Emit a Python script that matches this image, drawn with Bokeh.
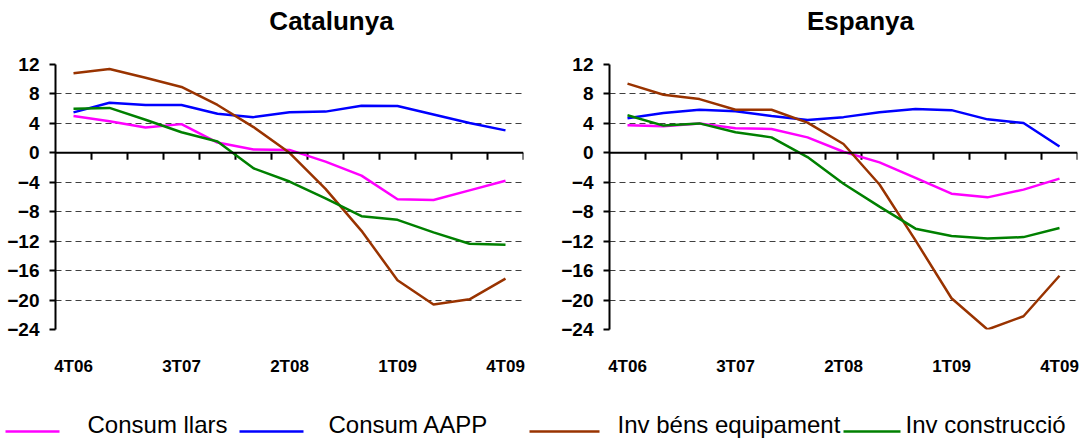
from bokeh.plotting import figure
from bokeh.models import Range1d, FixedTicker, Span
from bokeh.layouts import column, row
from bokeh.embed import file_html
from bokeh.resources import INLINE
from bokeh.core.properties import value

# ---------------- data ----------------
quarters = ["4T06", "1T07", "2T07", "3T07", "4T07", "1T08", "2T08",
            "3T08", "4T08", "1T09", "2T09", "3T09", "4T09"]
shown_quarters = ["4T06", "3T07", "2T08", "1T09", "4T09"]
y_ticks = [12, 8, 4, 0, -4, -8, -12, -16, -20, -24]
panel_titles = ["Catalunya", "Espanya"]

series_names = ["Consum llars", "Consum AAPP", "Inv béns equipament", "Inv construcció"]
series_colors = ["#FF00FF", "#0000FF", "#993300", "#008000"]

cat_consum_llars = [5.0, 4.3, 3.45, 3.9, 1.4, 0.45, 0.4, -1.2, -3.1, -6.3, -6.4, -5.1, -3.8]
cat_consum_aapp = [5.5, 6.8, 6.5, 6.5, 5.3, 4.85, 5.5, 5.6, 6.4, 6.35, 5.2, 4.05, 3.05]
cat_inv_equip = [10.8, 11.4, 10.2, 8.95, 6.5, 3.5, 0.0, -4.9, -10.6, -17.3, -20.6, -19.9, -17.1]
cat_inv_constr = [6.0, 6.1, 4.5, 2.8, 1.55, -2.1, -3.9, -6.2, -8.6, -9.1, -10.8, -12.35, -12.5]

esp_consum_llars = [3.75, 3.6, 4.0, 3.35, 3.25, 2.1, 0.15, -1.3, -3.4, -5.55, -6.05, -5.0, -3.5]
esp_consum_aapp = [4.7, 5.4, 5.85, 5.65, 5.0, 4.45, 4.85, 5.5, 5.95, 5.8, 4.55, 4.05, 0.85]
esp_inv_equip = [9.4, 7.9, 7.3, 5.85, 5.85, 4.1, 1.2, -4.3, -11.9, -19.75, -24.0, -22.2, -16.7]
esp_inv_constr = [5.1, 3.7, 4.0, 2.8, 2.1, -0.57, -4.2, -7.3, -10.3, -11.3, -11.65, -11.45, -10.2]

FONT = "Liberation Sans"
TOTAL_W = 1081
HEAD_H = 40
PANEL_H = 338
FRAME_TOP = 24
FRAME_H = 272
LEG_H = 60


def strip(height):
    f = figure(width=TOTAL_W, height=height, output_backend="svg", toolbar_location=None,
               x_range=Range1d(0, TOTAL_W), y_range=Range1d(0, height),
               min_border=0, min_border_left=0, min_border_right=0,
               min_border_top=0, min_border_bottom=0)
    f.axis.visible = False
    f.grid.visible = False
    f.outline_line_color = None
    return f


def make_panel(series, width, border_left, frame_w):
    n = len(quarters)
    ymin, ymax = min(y_ticks), max(y_ticks)
    p = figure(width=width, height=PANEL_H, output_backend="svg", toolbar_location=None,
               x_range=Range1d(0, n), y_range=Range1d(ymin, ymax),
               min_border_left=border_left, min_border_right=width - border_left - frame_w,
               min_border_top=FRAME_TOP, min_border_bottom=PANEL_H - FRAME_TOP - FRAME_H)
    p.outline_line_color = None
    p.background_fill_color = "white"
    p.border_fill_color = "white"

    # grid
    p.xgrid.visible = False
    p.ygrid.ticker = FixedTicker(ticks=[t for t in y_ticks if t not in (0, ymin, ymax)])
    p.ygrid.grid_line_color = "#404040"
    p.ygrid.grid_line_width = 1
    p.ygrid.grid_line_dash = "6 4"

    # y axis
    p.yaxis.ticker = FixedTicker(ticks=y_ticks)
    p.yaxis.axis_line_width = 2
    p.yaxis.axis_line_color = "black"
    p.yaxis.major_tick_line_width = 2
    p.yaxis.major_tick_out = 6
    p.yaxis.major_tick_in = 0
    p.yaxis.minor_tick_line_color = None
    p.yaxis.major_label_standoff = 10
    p.yaxis.major_label_text_font = FONT
    p.yaxis.major_label_text_font_style = "bold"
    p.yaxis.major_label_text_font_size = "19px"
    p.yaxis.major_label_text_color = "black"

    # x axis (labels only, low position)
    centers = [i + 0.5 for i in range(n)]
    label_pos = [centers[quarters.index(q)] for q in shown_quarters]
    p.xaxis.ticker = FixedTicker(ticks=label_pos)
    p.xaxis.major_label_overrides = {pos: q for pos, q in zip(label_pos, shown_quarters)}
    p.xaxis.axis_line_color = None
    p.xaxis.major_tick_line_color = None
    p.xaxis.minor_tick_line_color = None
    p.xaxis.major_label_standoff = 21
    p.xaxis.major_label_text_font = FONT
    p.xaxis.major_label_text_font_style = "bold"
    p.xaxis.major_label_text_font_size = "17px"
    p.xaxis.major_label_text_color = "black"

    # zero line with downward tick marks at category boundaries
    p.add_layout(Span(location=0, dimension="width", line_color="black", line_width=2))
    tick_len = 7 * (ymax - ymin) / FRAME_H
    bounds = list(range(1, n + 1))
    p.segment(x0=bounds, y0=[0] * len(bounds), x1=bounds, y1=[-tick_len] * len(bounds),
              line_color="black", line_width=2)

    for vals, col in zip(series, series_colors):
        p.line(centers, vals, line_color=col, line_width=2.5)
    return p


# header with the two panel titles
head = strip(HEAD_H)
title_cx = [331, 860]
title_mid_from_top = 20
head.text(x=title_cx, y=[HEAD_H - title_mid_from_top] * 2, text=panel_titles,
          text_font=value(FONT), text_font_style="bold", text_font_size="26px",
          text_align="center", text_baseline="middle", text_color="black")

p1 = make_panel([cat_consum_llars, cat_consum_aapp, cat_inv_equip, cat_inv_constr],
                width=540, border_left=55, frame_w=468)
p2 = make_panel([esp_consum_llars, esp_consum_aapp, esp_inv_equip, esp_inv_constr],
                width=541, border_left=69, frame_w=468)

# legend strip
leg = strip(LEG_H)
line_x0 = [5, 239, 529, 843]
line_x1 = [59, 303, 599, 900]
text_x = [87, 328, 617, 905]
line_y = 7
text_mid_y = 14
leg.segment(x0=line_x0, y0=[line_y] * 4, x1=line_x1, y1=[line_y] * 4,
            line_color=series_colors, line_width=2.5)
leg.text(x=text_x, y=[text_mid_y] * 4, text=series_names, text_font=value(FONT),
         text_font_size="24px", text_baseline="middle", text_align="left",
         text_color="black")

layout = column(head, row(p1, p2), leg)
open("out.html", "w").write(file_html(layout, INLINE))
